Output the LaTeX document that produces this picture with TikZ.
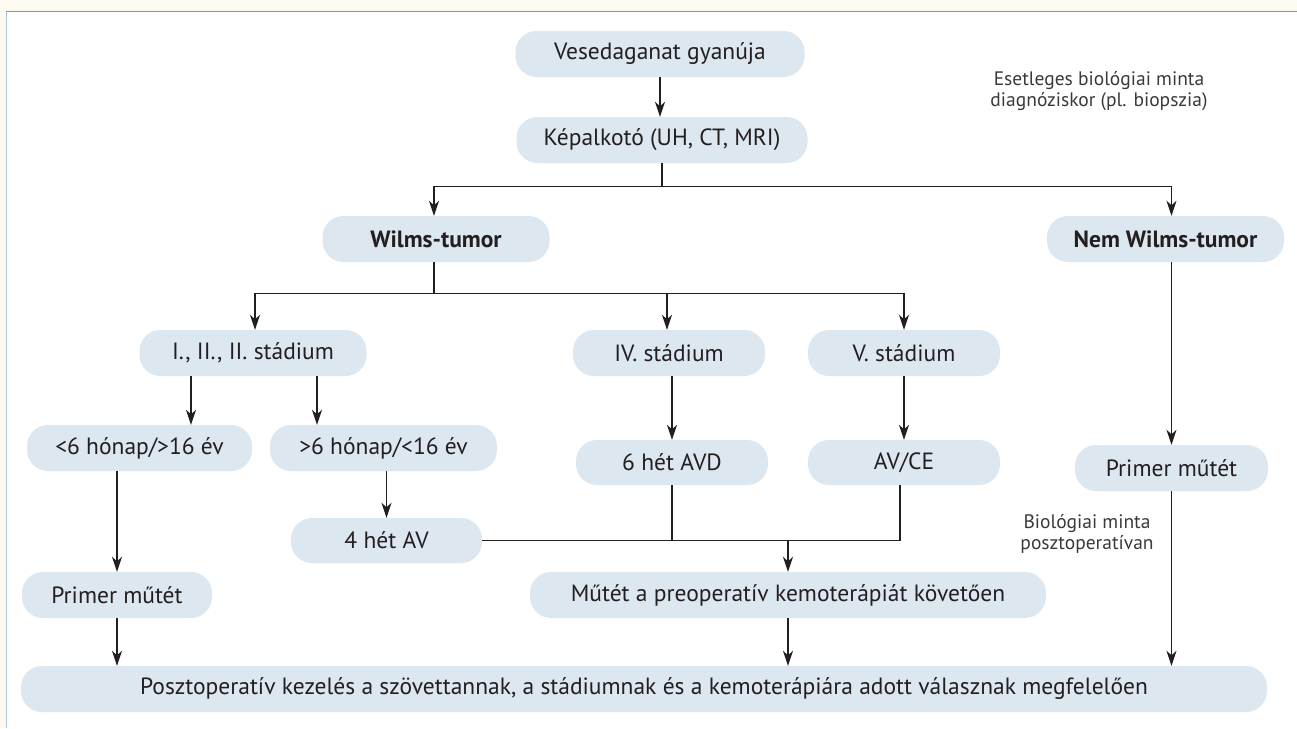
\documentclass[tikz,border=0pt]{standalone}
\usepackage{fontspec}
\setmainfont{PT Sans}
\usetikzlibrary{arrows.meta,calc}
\definecolor{boxfill}{HTML}{DDE7F0}
\definecolor{cream}{HTML}{FDFBF1}
\definecolor{topline}{HTML}{6F9DC2}
\definecolor{leftline}{HTML}{A9C6DC}
\definecolor{ink}{HTML}{231F20}
\definecolor{annot}{HTML}{3A3A3A}
\begin{document}
\begin{tikzpicture}[x=1pt,y=-1pt,
  fbox/.style={rectangle, rounded corners=21pt, fill=boxfill, draw=none,
    minimum height=46pt, inner sep=0pt, text=ink, font=\fontsize{23.5}{27}\selectfont},
  bbox/.style={fbox, font=\fontsize{23.5}{27}\selectfont\bfseries},
  conn/.style={draw=ink, line width=1.3pt},
  arr/.style={conn, -{Stealth[length=15pt,width=10pt,inset=4.5pt]}},
  annot/.style={align=center, text=annot, inner sep=0pt, font=\fontsize{19.5}{21}\selectfont}
]
\useasboundingbox (0,0) rectangle (1297,728);
\fill[cream] (0,0) rectangle (1297,728);
\fill[white] (6,11) rectangle (1297,728);
\draw[leftline, line width=1.6pt] (6.5,11) -- (6.5,728);
\draw[topline, line width=1.2pt] (6,11.5) -- (1297,11.5);

% nodes
\node[fbox, minimum width=289pt] (ves) at (660,54) {Vesedaganat gyanúja};
\node[fbox, minimum width=291pt] (kep) at (662,140) {Képalkotó (UH, CT, MRI)};
\node[bbox, minimum width=227pt] (wilms) at (436,239) {Wilms-tumor};
\node[bbox, minimum width=237pt] (nem) at (1165.5,239) {Nem Wilms-tumor};
\node[fbox, minimum width=227pt] (s123) at (253,353) {I., II., II. stádium};
\node[fbox, minimum width=192pt] (s4) at (669,353) {IV. stádium};
\node[fbox, minimum width=192pt] (s5) at (904,353) {V. stádium};
\node[fbox, minimum width=225pt] (lt6) at (139.5,448) {<6 hónap/>16 év};
\node[fbox, minimum width=227pt] (gt6) at (383.5,448) {>6 hónap/<16 év};
\node[fbox, minimum width=192pt, minimum height=45pt] (avd) at (672,462.5) {6 hét AVD};
\node[fbox, minimum width=192pt, minimum height=45pt] (avce) at (904,462.5) {AV/CE};
\node[fbox, minimum width=193pt] (primR) at (1171.5,468) {Primer műtét};
\node[fbox, minimum width=191pt, minimum height=45pt] (av4) at (386.5,540.5) {4 hét AV};
\node[fbox, minimum width=190pt] (primL) at (117,595) {Primer műtét};
\node[fbox, minimum width=516pt] (mutet) at (788,595) {Műtét a preoperatív kemoterápiát követően};
\node[fbox, minimum width=1246pt] (post) at (644,689) {Posztoperatív kezelés a szövettannak, a stádiumnak és a kemoterápiára adott válasznak megfelelően};

\node[annot] (ann1) at (1099,91) {Esetleges biológiai minta\\diagnóziskor (pl. biopszia)};
\node[annot] (ann2) at (1087,534) {Biológiai minta\\posztoperatívan};

% connectors
\draw[arr] (ves.south) -- (ves.south |- kep.north);
\coordinate (h1) at ($(kep.south)+(0,23)$);
\draw[conn] (kep.south) -- (h1);
\draw[arr] (h1) -| ([xshift=-2pt]wilms.north);
\draw[arr] (h1) -| (primR.north |- nem.north);

\coordinate (h2) at ($(wilms.south)+(0,31)$);
\draw[conn] ([xshift=-2pt]wilms.south) -- ([xshift=-2pt]h2);
\draw[arr] (h2) -| ([xshift=2pt]s123.north);
\draw[arr] (h2) -| ([xshift=-2pt]s4.north);
\draw[arr] (h2) -| (s5.north);

\draw[arr] ([xshift=-62pt]s123.south) -- ([xshift=-62pt]s123.south |- lt6.north);
\draw[arr] ([xshift=64pt]s123.south) -- ([xshift=64pt]s123.south |- gt6.north);

\draw[arr] (primL.north |- lt6.south) -- (primL.north);
\draw[arr] (av4.north |- gt6.south) -- (av4.north);
\draw[arr] (avd.north |- s4.south) -- (avd.north);
\draw[arr] (s5.south) -- (avce.north);
\draw[arr] (primR.north |- nem.south) -- (primR.north);

\draw[conn] (av4.east) -- ([xshift=-4pt]avce.south |- av4.east) -- ([xshift=-4pt]avce.south);
\draw[conn] (avd.south) -- (avd.south |- av4.east);
\coordinate (j) at (mutet.north |- av4.east);
\draw[arr] (j) -- (mutet.north);

\draw[arr] (primL.south) -- (primL.south |- post.north);
\draw[arr] (mutet.south) -- (mutet.south |- post.north);
\draw[arr] (primR.south) -- (primR.south |- post.north);
\end{tikzpicture}
\end{document}
